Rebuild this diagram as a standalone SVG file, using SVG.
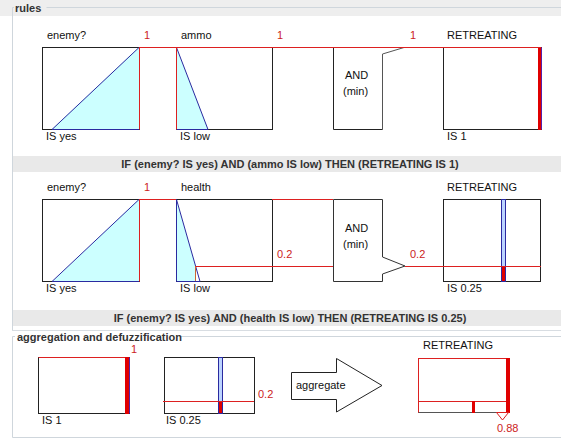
<svg xmlns="http://www.w3.org/2000/svg" width="561" height="439" viewBox="0 0 561 439">
<style>
text{font-family:"Liberation Sans",Arial,sans-serif;font-size:11px;fill:#111}
.r{fill:#cc2222}
.b{font-weight:bold;fill:#333}
.box{fill:none;stroke:#222;stroke-width:1}
.rl{stroke:#dd2020;stroke-width:1;fill:none}
.bl{stroke:#2a2aa0;stroke-width:1;fill:none}
.cy{fill:#ccffff}
.band{fill:#e9e9e9}
.frame{stroke:#cfd6dc;stroke-width:1;fill:none}
</style>
<rect x="0" y="0" width="561" height="439" fill="#ffffff"/>
<rect x="0" y="0" width="561" height="16" fill="#eeeeee"/>
<g id="panel-rules">
<path class="frame" d="M46.5,7.5 H561 M12.5,7.5 V330 M12.5,7.5 H14"/>
<text class="b" x="15" y="12">rules</text>
</g>
<g id="rule1-enemy">
<text x="47" y="39">enemy?</text>
<text class="r" x="144" y="39">1</text>
<polygon class="cy" points="52,129 139,47 139,129"/>
<rect class="box" x="42.5" y="47.5" width="97" height="82"/>
<line class="bl" x1="52" y1="129.5" x2="139" y2="47.5"/>
<line class="bl" x1="52" y1="129.5" x2="139" y2="129.5"/>
<line class="rl" x1="139.5" y1="47.5" x2="139.5" y2="129.5"/>
<text x="46" y="140">IS yes</text>
</g>
<g id="rule1-ammo">
<text x="181" y="39">ammo</text>
<text class="r" x="277" y="39">1</text>
<polygon class="cy" points="176,47 208,129 176,129"/>
<rect class="box" x="176.5" y="47.5" width="96" height="82"/>
<line class="bl" x1="176.5" y1="47.5" x2="208" y2="129.5"/>
<line class="bl" x1="176.5" y1="129.5" x2="208" y2="129.5"/>
<line class="rl" x1="176.5" y1="47.5" x2="176.5" y2="129.5"/>
<text x="180" y="140">IS low</text>
</g>
<g id="rule1-and">
<path d="M382.5,129.5 V54 L404,47.5" fill="none" stroke="#555"/>
<path d="M333.5,47.5 V129.5 H382.5" fill="none" stroke="#222"/>
<text x="345" y="79">AND</text>
<text x="343" y="95">(min)</text>
<text class="r" x="410" y="39">1</text>
</g>
<g id="rule1-retreating">
<text x="447" y="39">RETREATING</text>
<rect class="box" x="443.5" y="47.5" width="98" height="82"/>
<rect x="538" y="47" width="3.5" height="83" fill="#e00000"/>
<line x1="541.5" y1="47.5" x2="541.5" y2="129.5" stroke="#5522aa"/>
<text x="447" y="140">IS 1</text>
</g>
<g id="connectors-rule1">
<line class="rl" x1="139" y1="47.5" x2="541" y2="47.5"/>
</g>
<g id="rule1-text">
<rect class="band" x="13" y="156" width="548" height="16"/>
<text class="b" x="290" y="168" text-anchor="middle">IF (enemy? IS yes) AND (ammo IS low) THEN (RETREATING IS 1)</text>
</g>
<g id="rule2-enemy">
<text x="47" y="191">enemy?</text>
<text class="r" x="144" y="191">1</text>
<polygon class="cy" points="52,282 139,199 139,282"/>
<rect class="box" x="42.5" y="199.5" width="97" height="82"/>
<line class="bl" x1="52" y1="281.5" x2="139" y2="199.5"/>
<line class="bl" x1="52" y1="281.5" x2="139" y2="281.5"/>
<line class="rl" x1="139.5" y1="199.5" x2="139.5" y2="281.5"/>
<text x="46" y="292">IS yes</text>
</g>
<g id="rule2-health">
<text x="181" y="191">health</text>
<text class="r" x="277" y="258">0.2</text>
<polygon class="cy" points="176,199 195.5,266 195.5,282 176,282"/>
<rect class="box" x="176.5" y="199.5" width="96" height="82"/>
<line class="bl" x1="176.5" y1="199.5" x2="200" y2="281.5"/>
<line class="bl" x1="176.5" y1="281.5" x2="200" y2="281.5"/>
<line class="bl" x1="176.5" y1="199.5" x2="176.5" y2="281.5"/>
<line x1="195.5" y1="266" x2="195.5" y2="281" stroke="#cc6633"/>
<text x="180" y="292">IS low</text>
</g>
<g id="rule2-and">
<path d="M333.5,199.5 H382.5 V257 L405,266 L382.5,274 V281.5 H333.5 Z" fill="none" stroke="#333"/>
<text x="345" y="232">AND</text>
<text x="343" y="248">(min)</text>
<text class="r" x="410" y="258">0.2</text>
</g>
<g id="rule2-retreating">
<text x="447" y="191">RETREATING</text>
<rect class="box" x="443.5" y="199.5" width="97" height="82"/>
<rect x="501.5" y="199.5" width="4" height="82" fill="#bcd4ff" stroke="#2a2aa0"/>
<rect x="502" y="266" width="3" height="15" fill="#e00000"/>
<text x="447" y="292">IS 0.25</text>
</g>
<g id="connectors-rule2">
<line class="rl" x1="139" y1="199.5" x2="176" y2="199.5"/>
<line class="rl" x1="272" y1="199.5" x2="333" y2="199.5"/>
<line class="rl" x1="195.5" y1="266.5" x2="333" y2="266.5"/>
<line class="rl" x1="405" y1="266.5" x2="541" y2="266.5"/>
</g>
<g id="rule2-text">
<rect class="band" x="13" y="310" width="548" height="16"/>
<text class="b" x="290" y="322" text-anchor="middle">IF (enemy? IS yes) AND (health IS low) THEN (RETREATING IS 0.25)</text>
</g>
<line x1="12" y1="330.5" x2="561" y2="330.5" stroke="#d8dde2"/>
<g id="panel-aggregation">
<path class="frame" d="M181,336.5 H561 M12.5,336.5 V437.5 H561 M12.5,336.5 H15"/>
<text class="b" x="17" y="341">aggregation and defuzzification</text>
</g>
<g id="agg-box1">
<rect class="box" x="38.5" y="357.5" width="91" height="56"/>
<line class="rl" x1="38.5" y1="357.5" x2="129.5" y2="357.5"/>
<rect x="125" y="357" width="4" height="57" fill="#e00000"/>
<line x1="129.5" y1="357.5" x2="129.5" y2="413.5" stroke="#5522aa"/>
<text class="r" x="131" y="353">1</text>
<text x="42" y="424">IS 1</text>
</g>
<g id="agg-box2">
<rect class="box" x="164.5" y="357.5" width="90" height="56"/>
<rect x="218.5" y="357.5" width="4" height="56" fill="#bcd4ff" stroke="#2a2aa0"/>
<rect x="219" y="401" width="3" height="12" fill="#e00000"/>
<line class="rl" x1="163" y1="401.5" x2="254" y2="401.5"/>
<text class="r" x="258" y="398">0.2</text>
<text x="166" y="424">IS 0.25</text>
</g>
<g id="aggregate-arrow">
<path d="M291.5,372.5 H336.5 V358.5 L382,385.5 L336.5,412 V399.5 H291.5 Z" fill="#fff" stroke="#222"/>
<text x="296" y="389">aggregate</text>
</g>
<g id="agg-result">
<text x="423" y="349">RETREATING</text>
<rect x="418.5" y="358.5" width="90" height="54" fill="none" stroke="#dd2020"/>
<line x1="418.5" y1="412.5" x2="508" y2="412.5" stroke="#555"/>
<line class="rl" x1="418.5" y1="401.5" x2="508" y2="401.5"/>
<rect x="506" y="358" width="4" height="55" fill="#e00000"/>
<rect x="472" y="401" width="3" height="12" fill="#e00000"/>
<polygon points="496.5,412.5 508.5,412.5 502.5,420" fill="#fff" stroke="#dd2020"/>
<text class="r" x="497" y="432">0.88</text>
</g>
</svg>
